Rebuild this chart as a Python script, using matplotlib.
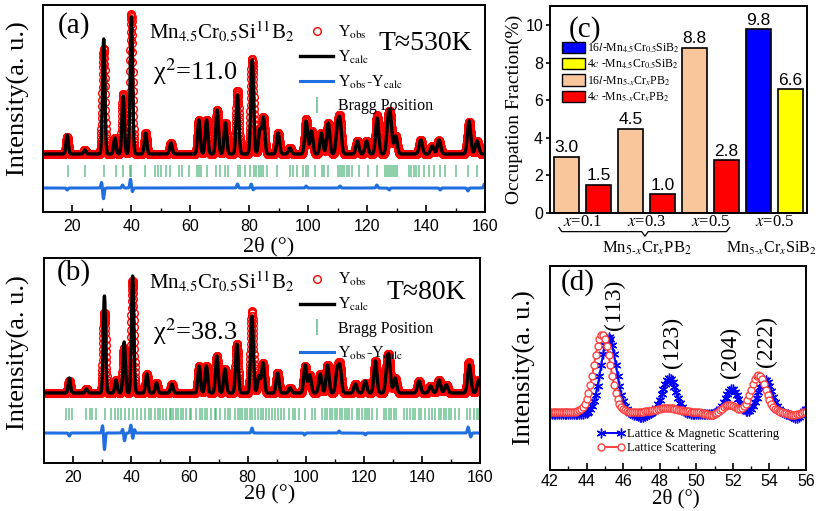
import numpy as np
import matplotlib
matplotlib.use("Agg")
from matplotlib import pyplot as plt
from matplotlib.lines import Line2D
from matplotlib.patches import Patch

plt.rcParams.update({
  "font.family": ['Liberation Serif', 'DejaVu Serif'],
  "mathtext.fontset": 'stix',
  "axes.linewidth": 1.4,
  "xtick.direction": 'in',
  "ytick.direction": 'in',
  "xtick.major.width": 1.2,
  "xtick.minor.width": 1.0,
  "ytick.major.width": 1.2,
  "legend.frameon": False,
})

SANS = 'Liberation Sans'

# ---------------- data ----------------
# (a) T ~ 530 K, peak list read from the pattern (position deg, height px above background)
a_peak_pos = [18.2, 24.2, 30.6, 34.4, 37.2, 40.0, 44.8, 53.4, 62.9, 65.5, 69.1, 71.9,
              76.0, 81.0, 83.6, 84.8, 89.8, 93.8, 99.3, 101.1, 104.5, 106.8, 109.9, 110.8,
              116.7, 119.8, 123.4, 127.1, 127.9, 129.7, 138.2, 142.1, 144.4, 154.6, 157.3]
a_peak_height = [19, 4, 115, 16, 58, 137, 21, 11, 34, 34, 44, 31,
                 59, 94, 24, 36, 21, 6, 33, 23, 21, 31, 24, 31,
                 13, 13, 36, 28, 32, 18, 14, 8, 14, 33, 13]
a_res_pos = [18.2, 29.9, 30.5, 37.0, 39.7, 40.3, 76.0, 80.7, 81.3, 99.3, 110.8, 123.3,
             127.5, 144.8, 154.2, 159.8]
a_res_amp = [-2, 6, -11, 3, 9, -4, 4, 4, -2, 2, 2, 3, -2, -2, -3, 4]
a_bragg = [18.5, 24.4, 30.6, 34.7, 37.3, 39.4, 40.0, 44.7, 47.9, 49.0, 50.2, 51.6, 53.0,
           56.2, 57.3, 59.5, 62.3, 62.9, 63.5, 65.8, 68.6, 70.0, 71.9, 72.8, 76.2, 76.7,
           78.4, 80.1, 81.6, 82.4, 83.3, 84.1, 84.6, 86.0, 89.4, 93.9, 95.0, 96.2, 98.4,
           99.3, 100.1, 102.2, 104.7, 105.2, 106.7, 110.1, 110.7, 111.5, 112.2, 113.1,
           113.9, 114.8, 117.1, 120.3, 123.3, 126.2, 126.7, 127.3, 128.1, 128.8, 129.5,
           130.1, 134.1, 135.0, 135.8, 136.6, 137.5, 139.2, 140.9, 142.6, 144.8, 146.3,
           150.3, 154.4, 157.3]

# (b) T ~ 80 K
b_peak_pos = [18.6, 24.5, 30.7, 34.7, 37.5, 40.4, 45.3, 48.6, 53.9, 63.3, 65.8, 69.4,
              72.2, 76.3, 81.5, 83.9, 85.3, 90.3, 94.6, 99.8, 101.4, 105.0, 107.5, 110.8,
              111.8, 117.1, 120.5, 124.0, 128.0, 128.7, 130.8, 139.0, 143.0, 145.9, 148.4,
              156.3, 159.6]
b_peak_height = [15, 4, 97, 13, 51, 117, 19, 10, 9, 27, 27, 37,
                 24, 49, 77, 17, 30, 20, 5, 28, 18, 19, 28, 22,
                 25, 9, 12, 32, 22, 27, 15, 12, 7, 13, 8, 28, 13]
b_res_pos = [18.6, 30.1, 30.7, 37.0, 37.6, 39.8, 40.5, 41.0, 81.5, 99.6, 111.5, 120.5,
             155.9, 156.8]
b_res_amp = [-3, 8, -17, 4, -8, 8, -6, 4, 5, -2, 2, -2, 6, -4]
b_bragg = [17.35, 18.5, 19.65, 24.5, 25.6, 26.5, 27.9, 30.8, 33.1, 34.2, 35.4, 36.5, 37.7,
           39.2, 40.5, 41.9, 43.4, 44.5, 46.0, 46.8, 48.0, 49.1, 49.7, 50.9, 52.0, 53.2,
           53.7, 54.3, 55.2, 56.0, 57.2, 57.7, 58.9, 60.0, 60.6, 62.3, 63.5, 64.4, 65.2,
           66.1, 67.5, 68.6, 69.2, 70.4, 72.1, 73.2, 73.8, 75.5, 76.7, 77.3, 78.2, 79.0,
           79.8, 80.7, 81.6, 82.4, 83.6, 84.7, 85.3, 86.3, 87.5, 88.4, 89.3, 90.4, 91.6,
           92.4, 94.3, 95.5, 96.4, 97.6, 99.6, 102.1, 103.3, 105.6, 106.5, 107.3, 108.2,
           109.0, 110.0, 110.8, 111.7, 112.5, 113.4, 114.2, 115.0, 115.9, 117.6, 118.4,
           119.4, 120.3, 121.1, 121.9, 122.8, 124.5, 126.8, 127.6, 128.5, 129.3, 130.3,
           131.1, 133.7, 134.9, 136.0, 136.8, 137.7, 138.9, 139.8, 140.9, 142.3, 143.5,
           144.6, 145.8, 146.7, 147.5, 148.3, 149.2, 150.1, 151.5, 152.9, 155.5, 156.7,
           157.8, 159.0, 159.8]

# (c) occupation fractions
c_values = [3.0, 1.5, 4.5, 1.0, 8.8, 2.8, 9.8, 6.6]
c_colors = ['#F9C69C', '#FF0000', '#F9C69C', '#FF0000', '#F9C69C', '#FF0000', '#0000FF', '#FFFF00']
c_group_labels = ['$x$=0.1', '$x$=0.3', '$x$=0.5', '$x$=0.5']
c_legend_labels = ['16$l$-Mn$_{4.5}$Cr$_{0.5}$SiB$_2$', '4$c$ -Mn$_{4.5}$Cr$_{0.5}$SiB$_2$',
                   '16$l$-Mn$_{5\\text{-}x}$Cr$_x$PB$_2$', '4$c$ -Mn$_{5\\text{-}x}$Cr$_x$PB$_2$']
c_legend_colors = ['#0000FF', '#FFFF00', '#F9C69C', '#FF0000']

# (d) zoom on low angle peaks
d_hkl = ['(113)', '(123)', '(204)', '(222)']
d_hkl_pos = [45.5, 48.7, 51.85, 53.85]
d_mag_pos = [45.2, 48.52, 51.93, 53.76]
d_mag_height = [77, 36, 25, 34]
d_mag_sigma = [0.42, 0.38, 0.36, 0.38]
d_lat_pos = [44.85, 48.4, 51.8, 53.4, 50.8, 55.3]
d_lat_height = [77, 4, 7, 37, -3, -3]
d_lat_sigma = [0.45, 0.6, 0.35, 0.4, 0.3, 0.3]
d_extra_mag_pos = [47.0, 55.5, 56.1]
d_extra_mag_amp = [-3, -4, 6]


def profile(x, pos, height, sigma):
    y = np.zeros_like(x)
    for p, h, s in zip(pos, height, sigma):
        y += h * np.exp(-0.5 * ((x - p) / s) ** 2)
    return y


def pattern(ax, x, pos, height, res_pos, res_amp, bragg, base, bragg_lo, diff0):
    fwhm = [0.85 + 0.003 * p for p in pos]
    calc = base + profile(x, pos, height, [f / 2.355 for f in fwhm])
    res = profile(x, res_pos, res_amp, [0.25] * len(res_pos))
    obs = calc + res
    h_obs, = ax.plot(x, obs, 'o', ms=5.5, mfc='none', mec='red', mew=1.0)
    h_calc, = ax.plot(x, calc, '-', color='black', lw=2.4)
    ax.vlines(bragg, bragg_lo, bragg_lo + 12, color='#2ea860', lw=1.1, alpha=0.7)
    h_diff, = ax.plot(x, diff0 + res, '-', color='#1f6fe0', lw=2.2)
    return h_obs, h_calc, h_diff


def style_xrd(ax, ylim):
    ax.set_xlim(10, 160)
    ax.set_ylim(0, ylim)
    ax.set_xticks(np.arange(20, 161, 20))
    ax.set_xticks(np.arange(30, 161, 20), minor=True)
    ax.set_yticks([])
    ax.tick_params(axis='x', which='major', length=5, pad=5, labelsize=11.5)
    ax.tick_params(axis='x', which='minor', length=3)
    plt.setp(ax.get_xticklabels(), fontfamily=SANS)


fig = plt.figure(figsize=(8.22, 5.11), dpi=100)

ax_a = fig.add_axes([43 / 822, 1 - 212 / 511, 442 / 822, 207 / 511])
ax_b = fig.add_axes([44.3 / 822, 1 - 463 / 511, 435.7 / 822, 205 / 511])
ax_c = fig.add_axes([550 / 822, 1 - 213 / 511, 257 / 822, 207 / 511])
ax_d = fig.add_axes([550 / 822, 1 - 470 / 511, 256 / 822, 204 / 511])

x2t = np.arange(10.5, 160.0, 0.05)
leg_kw = dict(loc='upper left', fontsize=11.5, handlelength=2.1, handletextpad=0.3,
              labelspacing=0.48, borderpad=0, borderaxespad=0, numpoints=1)
h_bragg = Line2D([], [], marker='|', ls='none', color='#2ea860', ms=11, mew=1.2, alpha=0.7)

# ---- (a)
h_obs, h_calc, h_diff = pattern(ax_a, x2t, a_peak_pos, a_peak_height, a_res_pos, a_res_amp,
                                a_bragg, 58, 35, 24)
style_xrd(ax_a, 207)
ax_a.legend([h_obs, h_calc, h_diff, h_bragg],
            ['Y$_{\\mathrm{obs}}$', 'Y$_{\\mathrm{calc}}$',
             'Y$_{\\mathrm{obs}}$-Y$_{\\mathrm{calc}}$', 'Bragg Position'],
            bbox_to_anchor=(0.581, 0.908), **leg_kw)
ax_a.text(0.07, 0.903, '(a)', transform=ax_a.transAxes, fontsize=21, ha='center', va='center')
ax_a.text(0.405, 0.87, 'Mn$_{4.5}$Cr$_{0.5}$Si$^{11}$B$_2$', transform=ax_a.transAxes,
          fontsize=15, ha='center', va='center')
ax_a.text(0.344, 0.676, 'χ$^2$=11.0', transform=ax_a.transAxes, fontsize=19,
          ha='center', va='center')
ax_a.text(0.866, 0.816, 'T≈530K', transform=ax_a.transAxes, fontsize=20,
          ha='center', va='center')
ax_a.set_ylabel('Intensity(a. u.)', fontsize=19)
ax_a.yaxis.set_label_coords(-0.03, 0.55)
ax_a.set_xlabel('2θ (°)', fontsize=16)
ax_a.xaxis.set_label_coords(0.51, -0.12)

# ---- (b)
h_obs, h_calc, h_diff = pattern(ax_b, x2t, b_peak_pos, b_peak_height, b_res_pos, b_res_amp,
                                b_bragg, 70, 43, 30)
style_xrd(ax_b, 205)
ax_b.legend([h_obs, h_calc, h_bragg, h_diff],
            ['Y$_{\\mathrm{obs}}$', 'Y$_{\\mathrm{calc}}$', 'Bragg Position',
             'Y$_{\\mathrm{obs}}$-Y$_{\\mathrm{calc}}$'],
            bbox_to_anchor=(0.587, 0.935), **leg_kw)
ax_b.text(0.067, 0.927, '(b)', transform=ax_b.transAxes, fontsize=21, ha='center', va='center')
ax_b.text(0.408, 0.883, 'Mn$_{4.5}$Cr$_{0.5}$Si$^{11}$B$_2$', transform=ax_b.transAxes,
          fontsize=15, ha='center', va='center')
ax_b.text(0.346, 0.639, 'χ$^2$=38.3', transform=ax_b.transAxes, fontsize=19,
          ha='center', va='center')
ax_b.text(0.876, 0.83, 'T≈80K', transform=ax_b.transAxes, fontsize=20,
          ha='center', va='center')
ax_b.set_ylabel('Intensity(a. u.)', fontsize=19)
ax_b.yaxis.set_label_coords(-0.033, 0.537)
ax_b.set_xlabel('2θ (°)', fontsize=16)
ax_b.xaxis.set_label_coords(0.518, -0.1)

# ---- (c)
xb = np.arange(len(c_values))
bars = ax_c.bar(xb, c_values, width=0.8, color=c_colors, edgecolor='black', linewidth=1.2)
for rect, v in zip(bars, c_values):
    ax_c.annotate(f'{v:.1f}', (rect.get_x() + rect.get_width() / 2, v), xytext=(0, 1),
                  textcoords='offset points', ha='center', va='bottom',
                  fontsize=12.5, fontfamily=SANS)
ax_c.set_xlim(-0.52, 7.52)
ax_c.set_ylim(0, 11.03)
ax_c.set_yticks(np.arange(0, 11, 2))
ax_c.set_xticks(xb[::2] + 0.5)
ax_c.set_xticklabels(c_group_labels, fontsize=12)
ax_c.tick_params(axis='x', length=0, pad=1)
ax_c.tick_params(axis='y', direction='out', length=3, pad=2, labelsize=11.5)
plt.setp(ax_c.get_yticklabels(), fontfamily=SANS)
ax_c.set_ylabel('Occupation Fraction(%)', fontsize=14, labelpad=2)
ax_c.text(0.136, 0.885, '(c)', transform=ax_c.transAxes, fontsize=21, ha='center', va='center')
ax_c.legend([Patch(facecolor=c, edgecolor='black', linewidth=1.0) for c in c_legend_colors],
            c_legend_labels, loc='upper left', bbox_to_anchor=(0.047, 0.83), fontsize=8.5,
            handlelength=1.9, handleheight=1.1, handletextpad=0.2, labelspacing=0.25,
            borderpad=0, borderaxespad=0)
# brace below the three Mn5-xCrxPB2 groups
tr = ax_c.get_xaxis_transform()
ax_c.plot([-0.24, -0.15, 2.35, 2.45, 2.55, 5.0, 5.1],
          [-0.07, -0.09, -0.09, -0.112, -0.09, -0.09, -0.07],
          transform=tr, color='black', lw=0.9, clip_on=False)
ax_c.text(2.51, -0.17, 'Mn$_{5\\text{-}x}$Cr$_x$PB$_2$', transform=tr, fontsize=12,
          ha='center', va='center')
ax_c.text(6.42, -0.17, 'Mn$_{5\\text{-}x}$Cr$_x$SiB$_2$', transform=tr, fontsize=11.5,
          ha='center', va='center')

# ---- (d)
xd = np.arange(42.0, 56.01, 0.1)
y_mag = 56 + profile(xd, d_mag_pos, d_mag_height, d_mag_sigma) \
    + profile(xd, d_extra_mag_pos, d_extra_mag_amp, [0.25] * len(d_extra_mag_pos))
y_lat = 58 + profile(xd, d_lat_pos, d_lat_height, d_lat_sigma)
h_mag, = ax_d.plot(xd, y_mag, '-', color='blue', lw=1.4, marker=(6, 2, 0), ms=7, mew=1.0)
h_lat, = ax_d.plot(xd, y_lat, '-', color='#ff4040', lw=1.4, marker='o', ms=5,
                   mfc='white', mec='#ff4040', mew=1.0)
ax_d.set_xlim(42, 56)
ax_d.set_ylim(0, 204)
ax_d.set_xticks(np.arange(42, 57, 2))
ax_d.set_xticks(np.arange(43, 56, 2), minor=True)
ax_d.set_yticks([])
ax_d.tick_params(axis='x', which='major', length=5, pad=3, labelsize=11.5)
ax_d.tick_params(axis='x', which='minor', length=3)
plt.setp(ax_d.get_xticklabels(), fontfamily=SANS)
ax_d.set_ylabel('Intensity(a. u.)', fontsize=19)
ax_d.yaxis.set_label_coords(-0.055, 0.5)
ax_d.set_xlabel('2θ (°)', fontsize=15)
ax_d.xaxis.set_label_coords(0.49, -0.093)
ax_d.text(0.11, 0.917, '(d)', transform=ax_d.transAxes, fontsize=21, ha='center', va='center')
for lbl, xp, yf in zip(d_hkl, d_hkl_pos, [0.81, 0.627, 0.578, 0.632]):
    ax_d.text(xp, yf, lbl, transform=ax_d.get_xaxis_transform(), rotation=90,
              fontsize=17, ha='center', va='center')
ax_d.legend([h_mag, h_lat], ['Lattice & Magnetic Scattering', 'Lattice Scattering'],
            loc='upper left', bbox_to_anchor=(0.184, 0.206), fontsize=9,
            handlelength=2.2, handletextpad=0.2, labelspacing=0.2,
            borderpad=0, borderaxespad=0, numpoints=2)

fig.savefig('out.png', dpi=100)
